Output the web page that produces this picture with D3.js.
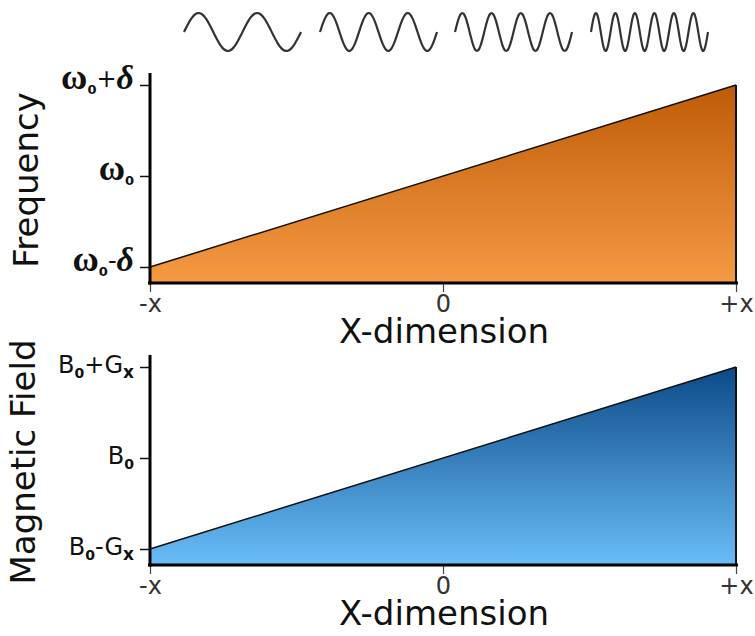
<!DOCTYPE html>
<html>
<head>
<meta charset="utf-8">
<script src="https://cdn.jsdelivr.net/npm/d3@7"></script>
<style>
  html, body { margin: 0; padding: 0; background: #fff; }
  svg { display: block; }
</style>
</head>
<body>
<svg id="chart" width="755" height="636"></svg>
<script>
// Position along the gradient axis (-x .. +x) and the linear quantity at each end
const xPositions = [-1, 1];
const frequencyValues = [-1, 1];
const fieldValues = [-1, 1];

// Axis tick values and their labels
const xTickValues = [-1, 0, 1];
const xTickLabels = ["-x", "0", "+x"];
const yTickValues = [-1, 0, 1];

// Cycles drawn in each sample waveform across the top (increasing frequency)
const waveCycles = [2, 3, 4, 6];

const svg = d3.select("#chart");
const defs = svg.append("defs");

const x = d3.scaleLinear().domain([-1, 1]).range([150, 736]);

function panel(offset, values, opts) {
  const g = svg.append("g").attr("transform", `translate(0,${offset})`);
  const y = d3.scaleLinear().domain([-1, 1]).range([267, 85]);
  const baseY = 283;

  const grad = defs.append("linearGradient")
    .attr("id", opts.id).attr("x1", 0).attr("y1", 0).attr("x2", 0).attr("y2", 1);
  grad.append("stop").attr("offset", "0%").attr("stop-color", opts.top);
  grad.append("stop").attr("offset", "100%").attr("stop-color", opts.bottom);

  const pts = xPositions.map((p, i) => [p, values[i]]);

  g.append("path")
    .datum(pts)
    .attr("d", d3.area().x(d => x(d[0])).y0(baseY).y1(d => y(d[1])))
    .attr("fill", `url(#${opts.id})`);

  g.append("path")
    .datum(pts)
    .attr("d", d3.line().x(d => x(d[0])).y(d => y(d[1])))
    .attr("fill", "none").attr("stroke", "#111").attr("stroke-width", 1.5);

  // right edge of the filled region
  g.append("line")
    .attr("x1", x(1)).attr("x2", x(1))
    .attr("y1", y(values[1])).attr("y2", baseY)
    .attr("stroke", "#111").attr("stroke-width", 2);

  // x axis
  const xAxis = d3.axisBottom(x).tickValues(xTickValues).tickSize(9)
    .tickFormat((d, i) => xTickLabels[i]);
  const xa = g.append("g").attr("transform", `translate(0,${baseY})`).call(xAxis);
  xa.select(".domain").remove();
  xa.selectAll(".tick line").attr("stroke", "#444").attr("stroke-width", 1.2);
  xa.selectAll(".tick text")
    .attr("y", 12).attr("dy", "0.71em")
    .attr("font-family", "DejaVu Sans").attr("font-size", 24).attr("fill", "#333");
  g.append("line")
    .attr("x1", 148).attr("x2", 738).attr("y1", baseY).attr("y2", baseY)
    .attr("stroke", "#000").attr("stroke-width", 3);

  // y axis
  const yAxis = d3.axisLeft(y).tickValues(yTickValues).tickSize(10).tickFormat("");
  const ya = g.append("g").attr("transform", "translate(150,0)").call(yAxis);
  ya.select(".domain").remove();
  ya.selectAll(".tick line").attr("stroke", "#111").attr("stroke-width", 1.5);
  g.append("line")
    .attr("x1", 150).attr("x2", 150).attr("y1", 73).attr("y2", baseY + 1.5)
    .attr("stroke", "#000").attr("stroke-width", 3);

  // tick labels with subscripts
  yTickValues.forEach(v => {
    const t = g.append("text")
      .attr("x", 134).attr("y", y(v)).attr("dy", opts.labelDy)
      .attr("text-anchor", "end").attr("fill", "#111");
    opts.label(t, v);
  });

  // axis titles
  g.append("text")
    .attr("x", 444).attr("y", 343)
    .attr("text-anchor", "middle")
    .attr("font-family", "DejaVu Sans").attr("font-size", 34).attr("fill", "#111")
    .text("X-dimension");

  g.append("text")
    .attr("transform", `translate(${opts.titleX},${opts.titleY}) rotate(-90)`)
    .attr("text-anchor", "middle")
    .attr("font-family", "DejaVu Sans").attr("font-size", opts.titleSize).attr("fill", "#111")
    .text(opts.title);
}

function omegaLabel(t, v) {
  t.attr("font-family", "Liberation Serif");
  t.append("tspan").attr("font-size", 36).attr("font-weight", "bold").text("ω");
  t.append("tspan").attr("font-size", 13).attr("font-family", "DejaVu Sans").attr("font-weight", "bold").attr("dy", 5).text("0");
  if (v !== 0) {
    t.append("tspan").attr("font-size", 24).attr("font-family", "DejaVu Sans").attr("dy", -7).text(v > 0 ? "+" : "-");
    t.append("tspan").attr("font-size", 34).attr("font-style", "italic").attr("font-weight", "bold").attr("dy", 2).text("δ");
  }
}

function fieldLabel(t, v) {
  t.attr("font-family", "DejaVu Sans");
  t.append("tspan").attr("font-size", 24).text("B");
  t.append("tspan").attr("font-size", 14).attr("font-weight", "bold").attr("dy", 5).text("0");
  if (v !== 0) {
    t.append("tspan").attr("font-size", 24).attr("dy", -5).text(v > 0 ? "+" : "-");
    t.append("tspan").attr("font-size", 24).text("G");
    t.append("tspan").attr("font-size", 17).attr("font-weight", "bold").attr("dy", 5).text("x");
  }
}

panel(0, frequencyValues, {
  id: "gradOrange", top: "#bf5b06", bottom: "#f59a43",
  label: omegaLabel, labelDy: "0.25em",
  title: "Frequency", titleX: 38, titleY: 180, titleSize: 34
});

panel(282, fieldValues, {
  id: "gradBlue", top: "#0b4a88", bottom: "#69bdf8",
  label: fieldLabel, labelDy: "0.35em",
  title: "Magnetic Field", titleX: 35, titleY: 180, titleSize: 34
});

// Sample waveforms of increasing frequency
const waveX = d3.scaleLinear().domain([0, 1]).range([0, 117]);
const waveY = d3.scaleLinear().domain([-1, 1]).range([51, 13]);
const waveStarts = [184, 320, 455, 591];
waveCycles.forEach((n, i) => {
  const samples = d3.range(0, 1.0001, 1 / (n * 40));
  svg.append("path")
    .attr("transform", `translate(${waveStarts[i]},0)`)
    .attr("d", d3.line().x(s => waveX(s)).y(s => waveY(Math.sin(2 * Math.PI * n * s))).curve(d3.curveBasis)(samples))
    .attr("fill", "none").attr("stroke", "#333").attr("stroke-width", 2.2);
});
</script>
</body>
</html>
